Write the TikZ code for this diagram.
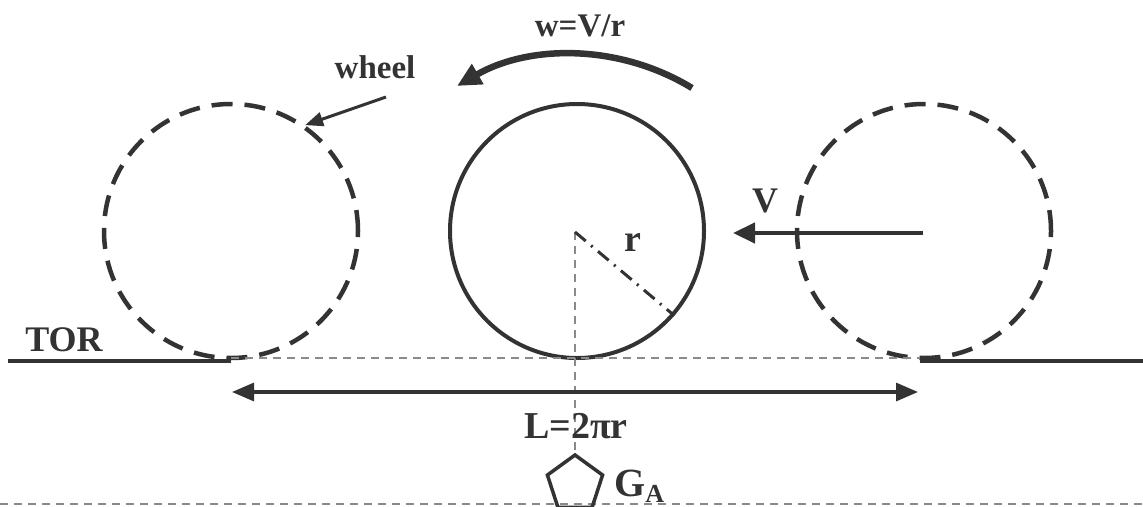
\documentclass[tikz,border=0pt]{standalone}
\usepackage{fontspec}
\setmainfont{Liberation Serif}
\usetikzlibrary{arrows.meta,shapes.geometric}
\definecolor{ink}{HTML}{333333}
\definecolor{guide}{HTML}{8A8A8A}
\begin{document}
\begin{tikzpicture}[x=1pt,y=-1pt,
  wheeldash/.style={draw=ink,line width=4.5pt,dash pattern=on 21pt off 12pt,circle,minimum size=254pt,inner sep=0pt},
  wheelsolid/.style={draw=ink,line width=4pt,circle,minimum size=254pt,inner sep=0pt},
  guideline/.style={draw=guide,line width=1.6pt,dash pattern=on 8pt off 6pt},
  ground/.style={draw=ink,line width=4.5pt},
  lbl/.style={text=ink,font=\bfseries,inner sep=0pt},
  bigtip/.style={-{Triangle[length=22pt,width=20pt]}},
]
\useasboundingbox (0,0) rectangle (1143,506);
% wheels
\node[wheeldash] (left) at (231,231) {};
\node[wheelsolid] (mid) at (577,231) {};
\node[wheeldash] (right) at (924,231) {};
\coordinate (cen) at (575,232);
% ground
\coordinate (g0) at (8,361);
\coordinate (gl) at (231,361);
\coordinate (gr) at (920,361);
\coordinate (g1) at (1143,361);
\draw[ground] (g0) -- (gl);
\draw[ground] (gr) -- (g1);
\coordinate (dl) at (231,358);
\coordinate (dr) at (920,358);
\draw[guideline] (dl) -- (dr);
% bottom dashed line
\coordinate (b0) at (0,504);
\coordinate (b1) at (1143,504);
\draw[guideline] (b0) -- (b1);
% labels
\node[lbl,font=\bfseries\fontsize{36}{40}\selectfont] (tor) at (64,340) {TOR};
\node[lbl,font=\bfseries\fontsize{33}{36}\selectfont] (wheel) at (375,67) {wheel};
\node[lbl,font=\bfseries\fontsize{33}{36}\selectfont] (omega) at (580,26) {w=V/r};
\node[lbl,font=\bfseries\fontsize{36}{40}\selectfont] (vl) at (765,201) {V};
\node[lbl,font=\bfseries\fontsize{38}{42}\selectfont] (rl) at (633,242) {r};
% pentagon
\node[regular polygon,regular polygon sides=5,draw=ink,line width=3.5pt,minimum size=58pt,inner sep=0pt] (ga) at (575,484) {};
\node[lbl,font=\bfseries\fontsize{40}{44}\selectfont,anchor=west] (gal) at (614,486) {G\raisebox{-0.35ex}{\fontsize{26}{28}\selectfont A}};
% vertical guide
\draw[guideline] (cen) -- (ga.corner 1);
\node[lbl,font=\bfseries\fontsize{38}{42}\selectfont] (len) at (576,426) {L=2πr};
% radius
\draw[draw=ink,line width=3pt,dash pattern=on 14pt off 7pt on 2pt off 7pt] (cen) -- (mid.-41);
% length arrow
\coordinate (la) at (232,392);
\coordinate (lb) at (918,392);
\draw[ink,line width=3.2pt,{Triangle[length=22pt,width=18pt]}-{Triangle[length=22pt,width=18pt]}] (la) -- (lb);
% V arrow
\coordinate (va) at (923,233);
\coordinate (vb) at (733,233);
\draw[ink,line width=4.5pt,bigtip] (va) -- (vb);
% wheel pointer
\coordinate (wa) at (386,97);
\draw[ink,line width=3pt,-{Triangle[length=18pt,width=14pt]}] (wa) -- (left.55);
% rotation arc
\coordinate (ra) at (692,88);
\coordinate (rb) at (457,86);
\draw[ink,line width=6.5pt,-{Triangle[length=24pt,width=22pt]}] (ra) .. controls (620,44) and (530,44) .. (rb);
\end{tikzpicture}
\end{document}
